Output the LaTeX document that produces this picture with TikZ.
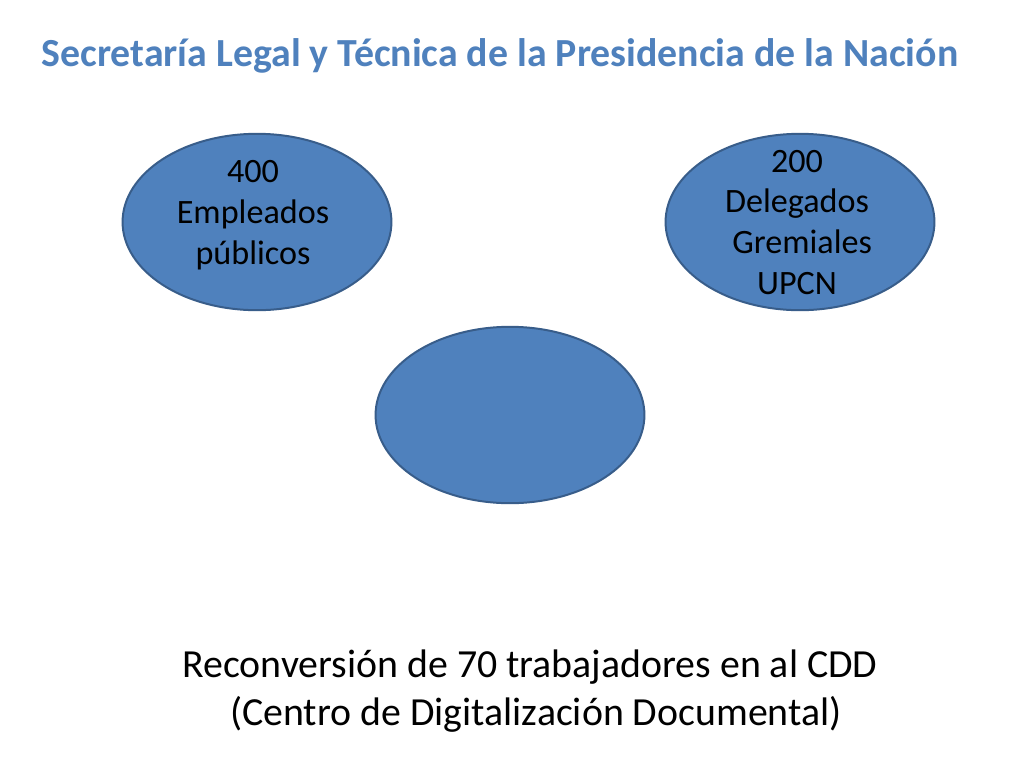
\documentclass[tikz,border=0pt]{standalone}
\usepackage{fontspec}
\setmainfont{Carlito}
\definecolor{ovalfill}{HTML}{4F81BD}
\definecolor{ovalline}{HTML}{385D8A}
\tikzset{
  ovalbox/.style={ellipse, draw=ovalline, line width=1.4pt, fill=ovalfill,
    minimum width=189pt, minimum height=124pt, inner sep=0pt},
  ovaltext/.style={align=center, font=\fontsize{24}{28.8}\selectfont},
}
\usetikzlibrary{shapes.geometric}
\begin{document}
\begin{tikzpicture}[x=0.703pt, y=-0.703pt]
\useasboundingbox[fill=white] (0,0) rectangle (1024,768);

\node[text=ovalfill, font=\fontsize{28}{34}\selectfont\bfseries] (titulo) at (500,56) {Secretaría Legal y Técnica de la Presidencia de la Nación};

\node[ovalbox] (empleados) at (257,222) {};
\node[ovaltext] (empleadostxt) at (253,215) {400\\Empleados\\públicos};

\node[ovalbox] (delegados) at (800,222) {};
\node[ovaltext] (delegadostxt) at (797,222.5) {200\\Delegados\\\hspace*{0.3em}Gremiales\\UPCN};

\node[ovalbox] (cdd) at (510,415) {};

\node[align=center, font=\fontsize{28}{33.7}\selectfont] (reconversion) at (530,691.5) {Reconversión de 70 trabajadores en al CDD\\\hspace*{0.3em}(Centro de Digitalización Documental)};

\end{tikzpicture}
\end{document}
